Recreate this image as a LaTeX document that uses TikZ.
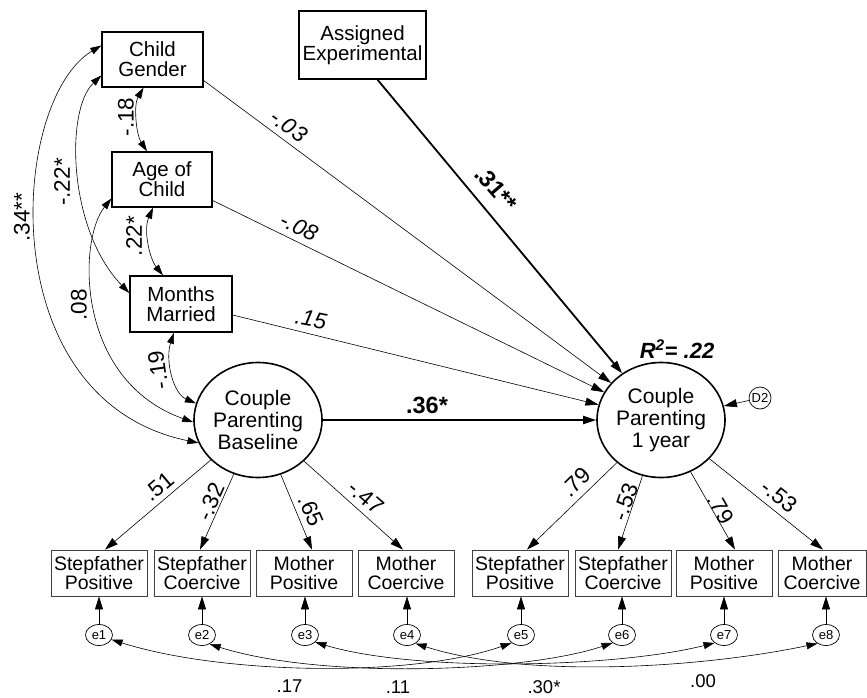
\documentclass[tikz,border=0pt]{standalone}
\usepackage{fontspec}
\setmainfont{Liberation Sans}
\usetikzlibrary{arrows.meta,shapes.geometric}
\begin{document}
\begin{tikzpicture}[x=1pt,y=-1pt,
  tip/.style={-{Triangle[length=13pt,width=8pt]}},
  both/.style={{Triangle[length=11pt,width=7pt]}-{Triangle[length=11pt,width=7pt]}},
  topbox/.style={draw,line width=1.4pt,align=center,inner sep=0pt,font=\fontsize{20.5}{20}\selectfont},
  obsbox/.style={draw=black!75,line width=0.8pt,minimum width=96pt,minimum height=46pt,inner sep=0pt,align=center,font=\fontsize{19.5}{19}\selectfont},
  latent/.style={ellipse,draw,line width=1.6pt,minimum width=128pt,minimum height=115pt,inner sep=0pt,align=center,font=\fontsize{21}{22}\selectfont},
  err/.style={ellipse,draw,line width=0.7pt,minimum width=27pt,minimum height=21pt,inner sep=0pt,font=\fontsize{13}{13}\selectfont},
  lab/.style={font=\fontsize{22.5}{22.5}\selectfont,inner sep=0pt},
  slab/.style={font=\fontsize{18.5}{18.5}\selectfont,inner sep=0pt},
  ilab/.style={font=\fontsize{22.5}{22.5}\selectfont\itshape,inner sep=0pt},
  blab/.style={font=\fontsize{23.5}{23.5}\selectfont\bfseries,inner sep=0pt},
  thinline/.style={line width=0.6pt},
  heavyline/.style={line width=1.8pt},
]
\useasboundingbox (0,0) rectangle (867,698);

% exogenous boxes
\node[topbox,minimum width=101pt,minimum height=55pt] (cg) at (152.5,59.5) {Child\\Gender};
\node[topbox,minimum width=100pt,minimum height=55pt] (aoc) at (162,179.5) {Age of\\Child};
\node[topbox,minimum width=102pt,minimum height=56pt] (mm) at (181,304) {Months\\Married};
\node[topbox,minimum width=127pt,minimum height=68pt] (ae) at (362.5,45) {Assigned\\Experimental};

% latent variables
\node[latent] (base) at (258,420) {Couple\\Parenting\\Baseline};
\node[latent] (yr1) at (661,420) {Couple\\Parenting\\1 year};
\node[circle,draw,line width=0.7pt,minimum size=22pt,inner sep=0pt,font=\fontsize{13}{13}\selectfont] (d2) at (760,398) {D2};
\node[font=\fontsize{22}{22}\selectfont\bfseries\itshape,inner sep=0pt] (r2) at (677,349) {R\textsuperscript{2}= .22};

% observed indicators
\node[obsbox] (sp1) at (99,573) {Stepfather\\Positive};
\node[obsbox] (sc1) at (202,573) {Stepfather\\Coercive};
\node[obsbox] (mp1) at (304,573) {Mother\\Positive};
\node[obsbox] (mc1) at (406,573) {Mother\\Coercive};
\node[obsbox] (sp2) at (520,573) {Stepfather\\Positive};
\node[obsbox] (sc2) at (623,573) {Stepfather\\Coercive};
\node[obsbox] (mp2) at (724,573) {Mother\\Positive};
\node[obsbox,minimum width=88pt] (mc2) at (822,573) {Mother\\Coercive};

% error terms
\node[err] (e1) at (99,635) {e1};
\node[err] (e2) at (202,635) {e2};
\node[err] (e3) at (305,635) {e3};
\node[err] (e4) at (407,635) {e4};
\node[err] (e5) at (521,635) {e5};
\node[err] (e6) at (622,635) {e6};
\node[err] (e7) at (724,635) {e7};
\node[err] (e8) at (826,635) {e8};

% regression paths
\draw[thinline,tip] ([yshift=-21pt]cg.east) -- (yr1);
\draw[thinline,tip] ([yshift=-21pt]aoc.east) -- (yr1);
\draw[thinline,tip] ([yshift=-11pt]mm.east) -- (yr1);
\draw[heavyline,tip] ([xshift=15pt]ae.south) -- (yr1);
\draw[heavyline,tip] (base) -- (yr1);
\draw[thinline,tip] (d2) -- (yr1);

\node[ilab,rotate=-36] (l03) at (289,126) {-.03};
\node[ilab,rotate=-26] (l08) at (299,227) {-.08};
\node[ilab,rotate=-11] (l15) at (311,319) {.15};
\node[blab,rotate=-49] (l31) at (496,189) {.31**};
\node[blab] (l36) at (427,405) {.36*};

% correlations among exogenous variables
\draw[thinline,both] ([xshift=-9pt]cg.south) .. controls +(-10,17) and +(-11,-17) .. ([xshift=-15pt]aoc.north);
\draw[thinline,both] ([xshift=-9pt]aoc.south) .. controls +(-10,23) and +(-13,-16) .. ([xshift=-18pt]mm.north);
\draw[thinline,both] ([xshift=-7pt]mm.south) .. controls +(-9,27) and +(-23,-10) .. (base.165);
\draw[thinline,both] ([yshift=-16pt]cg.west) .. controls (65,110) and (68,230) .. ([yshift=11pt]mm.west);
\draw[thinline,both] ([yshift=14pt]cg.west) .. controls (10,100) and (-10,400) .. (base.201);
\draw[thinline,both] ([yshift=-19pt]aoc.west) .. controls (78,240) and (75,380) .. (base.182);

\node[lab,rotate=90] (l18) at (126,117) {-.18};
\node[lab,rotate=90] (l22a) at (134,236) {.22*};
\node[lab,rotate=90] (l22b) at (62,182) {-.22*};
\node[lab,rotate=90] (l34) at (22,217) {.34**};
\node[lab,rotate=90] (l08b) at (79,305) {.08};
\node[lab,rotate=98] (l19) at (158,370) {-.19};

% loadings
\draw[thinline,tip] (base) -- ([xshift=6pt]sp1.north);
\draw[thinline,tip] (base) -- ([xshift=-2pt]sc1.north);
\draw[thinline,tip] (base) -- ([xshift=8pt]mp1.north);
\draw[thinline,tip] (base) -- ([xshift=-3pt]mc1.north);
\draw[thinline,tip] (yr1) -- ([xshift=7pt]sp2.north);
\draw[thinline,tip] (yr1) -- ([xshift=-5pt]sc2.north);
\draw[thinline,tip] (yr1) -- ([xshift=11pt]mp2.north);
\draw[thinline,tip] (yr1) -- ([xshift=1pt]mc2.north);

\node[lab,rotate=40] (la1) at (159,487) {.51};
\node[lab,rotate=66] (la2) at (211,502) {-.32};
\node[lab,rotate=-67] (la3) at (311,511) {.65};
\node[lab,rotate=-41] (la4) at (366,497) {-.47};
\node[lab,rotate=44] (lb1) at (576,482) {.79};
\node[lab,rotate=71] (lb2) at (625,502) {-.53};
\node[lab,rotate=-60] (lb3) at (721,509) {.79};
\node[lab,rotate=-38] (lb4) at (779,496) {-.53};

% error paths
\foreach \e/\b in {e1/sp1,e2/sc1,e3/mp1,e4/mc1,e5/sp2,e6/sc2,e7/mp2,e8/mc2}
  \draw[thinline,tip] (\e.north) -- (\e.north |- \b.south);

% error correlations
\draw[thinline,both] (e1.-20) .. controls +(110,35) and +(-100,35) .. (e5.220);
\draw[thinline,both] (e2.-50) .. controls +(110,35) and +(-90,30) .. (e6.220);
\draw[thinline,both] (e3.-35) .. controls +(100,30) and +(-100,25) .. (e7.220);
\draw[thinline,both] (e4.-45) .. controls +(110,35) and +(-120,25) .. (e8.225);

\node[slab] (c17) at (289.5,686) {.17};
\node[slab] (c11) at (398,687.5) {.11};
\node[slab] (c30) at (544,687.5) {.30*};
\node[slab] (c00) at (703,681.5) {.00};
\end{tikzpicture}
\end{document}
